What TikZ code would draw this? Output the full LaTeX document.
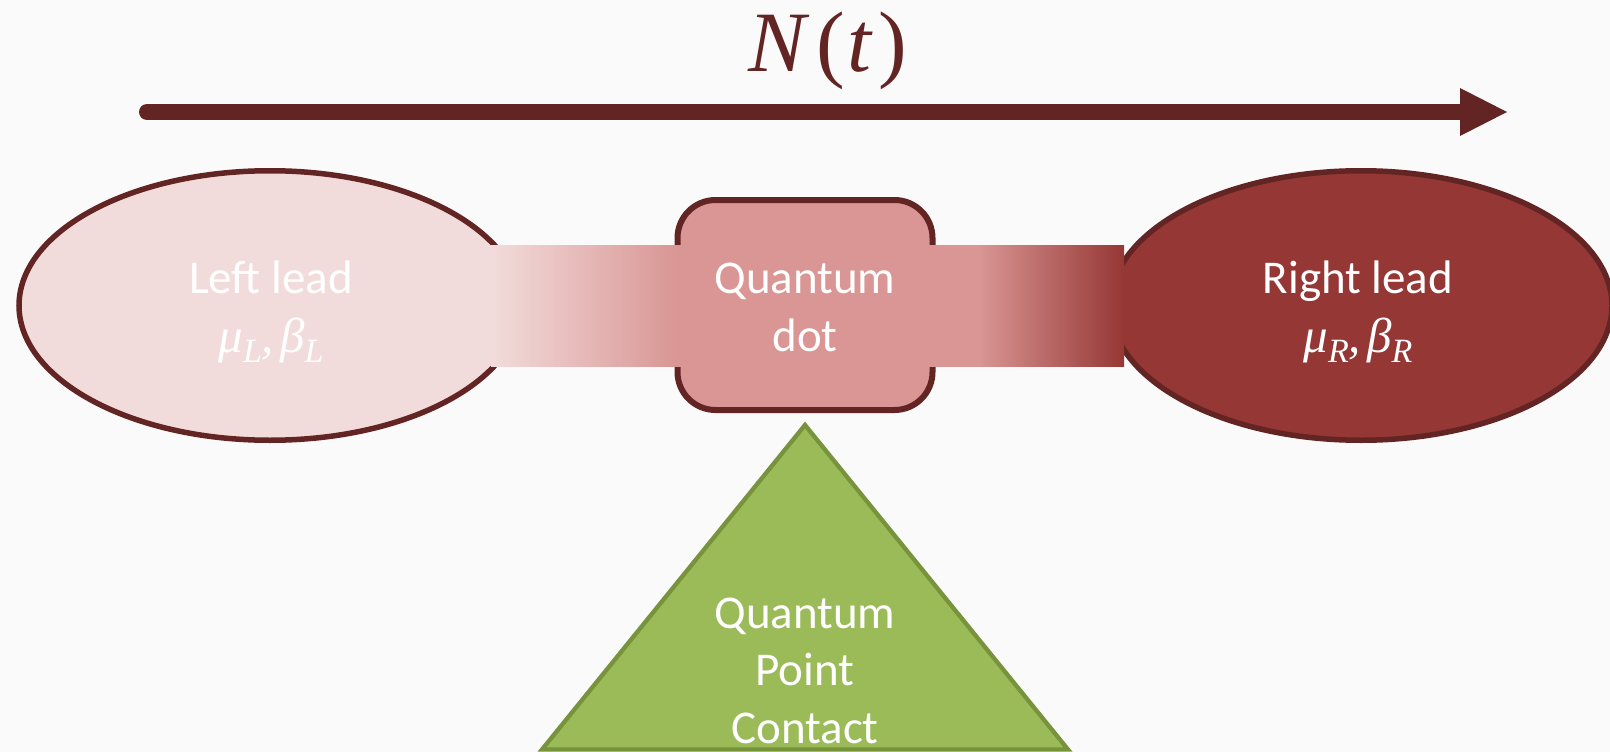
\RequirePackage{fix-cm}
\documentclass[tikz,border=0pt]{standalone}
\usepackage{fontspec}
\setmainfont{Carlito}
\newfontfamily\mfont{Liberation Serif}
\newcommand\mysub[1]{\raisebox{-0.22em}{\fontsize{34}{34}\selectfont\mfont\itshape #1}}
\usetikzlibrary{shapes.geometric,arrows.meta}
\definecolor{bgcol}{HTML}{FAFAFA}
\definecolor{darkred}{HTML}{632523}
\definecolor{lleadfill}{HTML}{F2DCDB}
\definecolor{dotfill}{HTML}{D99694}
\definecolor{rleadfill}{HTML}{953735}
\definecolor{trifill}{HTML}{9BBB59}
\definecolor{tristroke}{HTML}{77933C}
\pgfdeclarehorizontalshading{barshade}{100bp}{color(0bp)=(lleadfill); color(25bp)=(lleadfill); color(39.6bp)=(dotfill); color(63.5bp)=(dotfill); color(75bp)=(rleadfill); color(100bp)=(rleadfill)}
\begin{document}
\begin{tikzpicture}[x=1pt,y=-1pt,
  lead/.style={ellipse, draw=darkred, line width=5.5pt, minimum width=502pt, minimum height=269.5pt, inner sep=0pt},
  dotbox/.style={rectangle, rounded corners=38pt, draw=darkred, line width=6pt, fill=dotfill, minimum width=255pt, minimum height=210pt, inner sep=0pt},
  lbl/.style={text=white, font=\fontsize{47}{58}\selectfont, anchor=base, inner sep=0pt},
  mlbl/.style={text=white, font=\fontsize{49}{58}\selectfont\mfont\itshape, anchor=base, inner sep=0pt},
  bigarrow/.style={darkred, line width=16pt, line cap=round, -{Triangle[length=47pt,width=48pt,line width=0pt]}},
  tri/.style={draw=tristroke, fill=trifill, line width=4.3pt, line join=miter}
]
\fill[bgcol] (0,0) rectangle (1610,752);
\useasboundingbox (0,0) rectangle (1610,752);

% time arrow
\coordinate (arrowS) at (147,112);
\coordinate (arrowE) at (1507,112);
\draw[bigarrow] (arrowS) -- (arrowE);
\node[text=darkred, font=\fontsize{86}{96}\selectfont\mfont, anchor=base, inner sep=0pt] (Nt) at (828,71) {\textit{N}\kern6pt(\kern3pt\textit{t}\kern5pt)};

% leads and dot
\node[lead, fill=lleadfill] (L) at (270,305.5) {};
\node[lead, fill=rleadfill] (R) at (1361,305.5) {};
\node[dotbox] (D) at (805,305) {};
\shade[shading=barshade] (491,245.4) rectangle (1124,366);

% labels
\node[lbl] (Ltxt) at (271,293) {Left lead};
\node[mlbl] (Lmath) at (271,352) {μ\mysub{L},\kern6pt β\mysub{L}};
\node[lbl] (Dtxt) at (805,293) {Quantum};
\node[lbl] (Dtxt2) at (805,351) {dot};
\node[lbl] (Rtxt) at (1358,293) {Right lead};
\node[mlbl] (Rmath) at (1358,352) {μ\mysub{R},\kern6pt β\mysub{R}};

% quantum point contact
\coordinate (Tapex) at (805,425);
\coordinate (Tright) at (1068,749.5);
\coordinate (Tleft) at (542,749.5);
\draw[tri] (Tapex) -- (Tright) -- (Tleft) -- cycle;
\node[lbl] (Q1) at (805,628) {Quantum};
\node[lbl] (Q2) at (805,685) {Point};
\node[lbl] (Q3) at (805,743) {Contact};
\end{tikzpicture}
\end{document}
